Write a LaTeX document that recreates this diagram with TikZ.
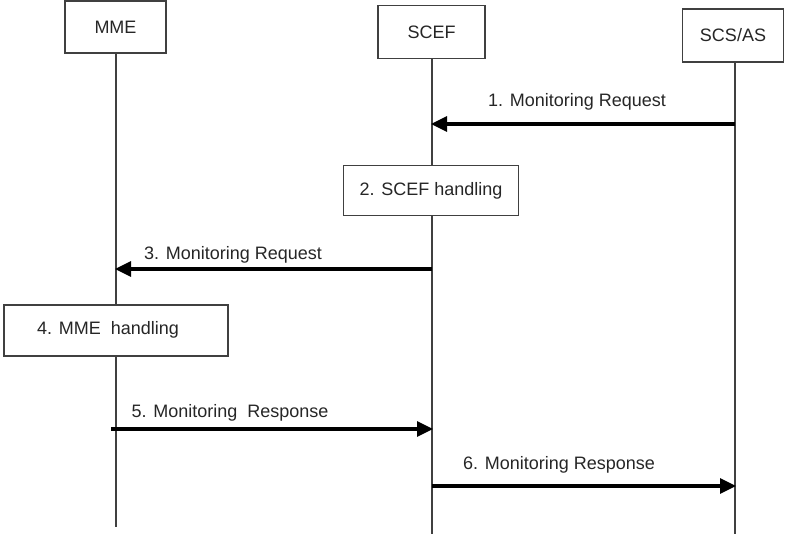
\documentclass[tikz,border=0pt]{standalone}
\usepackage{fontspec}
\setmainfont{Liberation Sans}
\usetikzlibrary{arrows.meta}
\begin{document}
\begin{tikzpicture}[x=1pt,y=-1pt,
  every node/.style={font=\fontsize{18}{21}\selectfont, text=black!85},
  box/.style={draw=black!75, line width=1.5pt, fill=white, inner sep=0pt},
  life/.style={draw=black!75, line width=1.1pt},
  msg/.style={draw=black, line width=3.2pt, -{Triangle[length=16pt,width=15pt]}, shorten >=-1pt},
  lbl/.style={inner sep=0pt}]
\useasboundingbox (0,0) rectangle (788,537);
% actor boxes
\node[box, minimum width=101pt, minimum height=52pt] (mme) at (115.5,27) {MME};
\node[box, minimum width=107pt, minimum height=53pt] (scef) at (431.5,32) {SCEF};
\node[box, minimum width=101pt, minimum height=53pt] (scs) at (733,35.5) {SCS/AS};
% lifeline ends
\coordinate (mmeEnd) at (116,527);
\coordinate (scefEnd) at (432,534);
\coordinate (scsEnd) at (735,534);
\draw[life] (mme.south -| mmeEnd) -- (mmeEnd);
\draw[life] (scef.south -| scefEnd) -- (scefEnd);
\draw[life] (scs.south -| scsEnd) -- (scsEnd);
% message anchor points
\coordinate (m1s) at (735,124); \coordinate (m1e) at (432,124);
\coordinate (m3s) at (432,269); \coordinate (m3e) at (116,269);
\coordinate (m5s) at (111,429); \coordinate (m5e) at (432,429);
\coordinate (m6s) at (432,486); \coordinate (m6e) at (735,486);
\draw[msg] (m1s) -- (m1e);
\draw[msg] (m3s) -- (m3e);
\draw[msg] (m5s) -- (m5e);
\draw[msg] (m6s) -- (m6e);
% labels
\node[lbl] (l1) at (577,102) {1. Monitoring Request};
\node[lbl] (l3) at (233,255) {3. Monitoring Request};
\node[lbl] (l5) at (230,413) {5. Monitoring\ \ Response};
\node[lbl] (l6) at (559,465) {6. Monitoring Response};
% handling boxes
\node[box, minimum width=175pt, minimum height=50pt] (h2) at (431,190.5) {2. SCEF handling};
\node[box, minimum width=224pt, minimum height=51pt] (h4) at (116,330.5) {};
\node[lbl] (h4t) at (108,330) {4. MME\ \ handling};
\end{tikzpicture}
\end{document}
